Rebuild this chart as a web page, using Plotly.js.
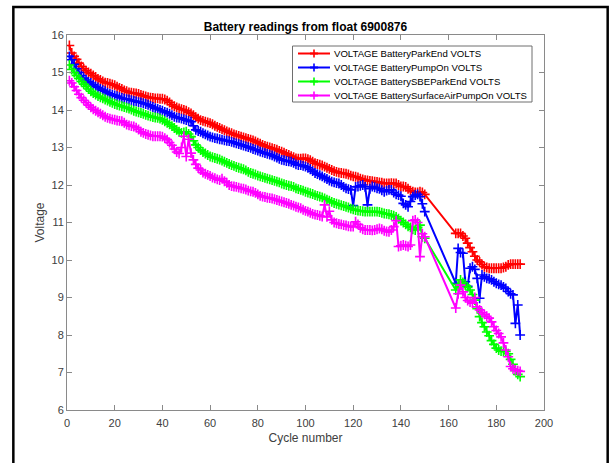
<!DOCTYPE html>
<html>
<head>
<meta charset="utf-8">
<script src="https://cdn.plot.ly/plotly-3.0.1.min.js"></script>
<style>html,body{margin:0;padding:0;background:#fff;}#chart{width:616px;height:463px;}</style>
</head>
<body>
<div id="chart"></div>
<script>
var cyclesA = [1,2,3,4,5,6,7,8,9,10,11,12,13,14,15,16,17,18,19,20,21,22,23,24,25,26,27,28,29,30,
31,32,33,34,35,36,37,38,39,40,41,42,43,44,45,46,47,48,49,50,51,52,53,54,55,56,57,58,59,60,
61,62,63,64,65,66,67,68,69,70,71,72,73,74,75,76,77,78,79,80,81,82,83,84,85,86,87,88,89,90,
91,92,93,94,95,96,97,98,99,100,101,102,103,104,105,106,107,108,109,110,111,112,113,114,115,116,117,118,119,120,
121,122,123,124,125,126,127,128,129,130,131,132,133,134,135,136,137,138,139,140,141,142,143,144,145,146,147,148,149,150];
var cyclesB = [163,164,165,166,167,168,169,170,171,172,173,174,175,176,177,178,179,180,181,182,183,184,185,186,187,188,189,190];

var parkEndA = [15.72,15.52,15.43,15.35,15.25,15.16,15.10,15.05,15.00,14.97,
14.92,14.88,14.83,14.80,14.76,14.73,14.72,14.70,14.68,14.66,
14.62,14.59,14.56,14.52,14.50,14.47,14.46,14.45,14.44,14.43,
14.40,14.38,14.36,14.34,14.33,14.32,14.31,14.31,14.30,14.30,
14.28,14.25,14.20,14.14,14.10,14.07,14.04,14.02,14.00,13.98,
13.94,13.91,13.86,13.81,13.77,13.73,13.71,13.69,13.67,13.65,
13.62,13.58,13.55,13.52,13.49,13.46,13.43,13.40,13.38,13.35,
13.33,13.31,13.29,13.27,13.25,13.23,13.21,13.19,13.16,13.13,
13.10,13.07,13.04,13.02,13.00,12.98,12.96,12.94,12.91,12.89,
12.86,12.83,12.80,12.77,12.74,12.71,12.70,12.70,12.71,12.71,
12.69,12.66,12.62,12.58,12.56,12.54,12.52,12.49,12.46,12.43,
12.40,12.37,12.35,12.33,12.32,12.31,12.30,12.28,12.25,12.23,
12.22,12.20,12.17,12.15,12.13,12.12,12.11,12.10,12.09,12.08,
12.07,12.06,12.04,12.04,12.04,12.05,12.04,12.04,12.00,11.96,
11.96,11.95,11.90,11.85,11.82,11.80,11.80,11.82,11.80,11.75];
var parkEndB = [10.71,10.71,10.71,10.64,10.58,10.45,10.33,10.22,10.10,10.00,9.95,9.88,9.82,9.80,
9.78,9.78,9.78,9.78,9.78,9.78,9.80,9.82,9.87,9.89,9.89,9.89,9.89,9.89];

var pumpOnA = [15.43,15.34,15.22,15.10,15.00,14.92,14.85,14.80,14.75,14.72,
14.67,14.63,14.60,14.56,14.53,14.50,14.46,14.43,14.41,14.39,
14.37,14.34,14.32,14.30,14.29,14.28,14.26,14.24,14.23,14.21,
14.20,14.18,14.16,14.14,14.11,14.08,14.05,14.03,14.00,13.98,
13.95,13.93,13.90,13.86,13.82,13.80,13.79,13.77,13.75,13.73,
13.71,13.69,13.58,13.47,13.44,13.42,13.38,13.35,13.32,13.29,
13.27,13.25,13.24,13.22,13.21,13.19,13.18,13.17,13.15,13.13,
13.11,13.09,13.07,13.05,13.03,13.01,12.99,12.96,12.94,12.92,
12.89,12.87,12.85,12.83,12.81,12.79,12.76,12.73,12.70,12.67,
12.66,12.64,12.63,12.62,12.59,12.55,12.53,12.53,12.51,12.49,
12.46,12.42,12.37,12.32,12.29,12.26,12.23,12.19,12.16,12.12,
12.09,12.07,12.05,12.04,12.00,11.95,11.91,11.89,11.87,11.45,
11.95,11.96,11.98,12.00,11.95,11.47,11.90,11.96,11.94,11.91,
11.90,11.86,11.82,11.85,11.87,11.87,11.80,11.75,11.73,11.70,
11.51,11.47,11.42,11.56,11.69,11.73,11.75,11.69,11.50,11.29];
var pumpOnB = [9.38,10.31,10.20,10.18,9.42,9.30,9.78,9.82,9.75,9.51,8.98,9.60,9.55,9.51,
9.50,9.47,9.42,9.38,9.35,9.33,9.28,9.24,9.16,9.10,9.07,8.31,8.80,8.00];

var sbeParkEndA = [15.20,15.08,15.00,14.92,14.84,14.76,14.69,14.63,14.56,14.50,
14.45,14.41,14.37,14.34,14.31,14.28,14.25,14.22,14.19,14.16,
14.14,14.12,14.10,14.08,14.06,14.04,14.01,13.98,13.96,13.94,
13.92,13.90,13.87,13.85,13.83,13.81,13.80,13.79,13.77,13.74,
13.70,13.66,13.62,13.57,13.52,13.47,13.42,13.39,13.40,13.42,
13.36,13.29,13.18,13.07,13.00,12.93,12.88,12.84,12.80,12.76,
12.74,12.72,12.70,12.68,12.65,12.62,12.59,12.56,12.53,12.51,
12.48,12.46,12.44,12.42,12.39,12.35,12.32,12.30,12.28,12.25,
12.23,12.21,12.19,12.17,12.15,12.13,12.11,12.09,12.07,12.04,
12.02,12.00,11.98,11.97,11.95,11.91,11.89,11.87,11.85,11.82,
11.80,11.78,11.76,11.73,11.71,11.69,11.67,11.64,11.61,11.58,
11.55,11.52,11.50,11.48,11.46,11.44,11.42,11.40,11.37,11.35,
11.33,11.32,11.31,11.30,11.29,11.29,11.29,11.29,11.29,11.29,
11.28,11.26,11.24,11.23,11.22,11.20,11.18,11.15,11.10,11.05,
11.00,10.95,10.90,10.87,10.82,10.80,10.87,10.93,10.62,10.58];
var sbeParkEndB = [9.20,9.35,9.47,9.40,9.33,9.27,9.20,9.08,8.93,8.70,8.49,8.33,8.22,8.08,
7.98,7.85,7.75,7.65,7.60,7.57,7.56,7.56,7.50,7.35,7.22,7.05,6.95,6.89];

var airPumpA = [14.78,14.72,14.62,14.52,14.42,14.33,14.26,14.20,14.13,14.07,
14.02,13.98,13.94,13.90,13.86,13.82,13.79,13.77,13.75,13.74,
13.72,13.71,13.70,13.66,13.61,13.59,13.57,13.56,13.53,13.48,
13.42,13.39,13.36,13.34,13.32,13.30,13.30,13.30,13.30,13.29,
13.25,13.21,13.13,13.06,12.96,12.88,12.84,13.00,13.30,12.76,
13.22,12.85,12.67,12.55,12.45,12.40,12.33,12.30,12.27,12.24,
12.20,12.18,12.15,12.13,12.17,12.10,12.06,12.00,11.97,11.96,
11.95,11.93,11.91,11.90,11.88,11.85,11.83,11.82,11.79,11.75,
11.71,11.69,11.68,11.66,11.65,11.64,11.62,11.60,11.58,11.56,
11.54,11.52,11.50,11.47,11.45,11.42,11.40,11.38,11.34,11.31,
11.29,11.26,11.23,11.21,11.20,11.18,11.16,11.47,11.15,11.30,
11.07,11.00,10.98,10.96,10.95,10.93,10.92,10.90,10.89,10.89,
11.02,10.95,10.86,10.82,10.80,10.80,10.80,10.79,10.80,10.82,
10.84,10.82,10.78,10.76,10.75,10.80,10.89,11.05,10.36,10.38,
10.40,10.38,10.36,10.40,11.05,11.07,11.00,10.09,10.70,10.62];
var airPumpB = [8.72,9.10,9.33,9.15,9.00,8.92,8.88,8.85,9.00,8.75,8.67,8.60,8.55,8.50,
8.45,8.35,8.22,8.12,8.04,7.95,7.79,7.60,7.42,7.16,7.10,7.07,7.05,7.03];

var seriesNames = ['VOLTAGE BatteryParkEnd VOLTS','VOLTAGE BatteryPumpOn VOLTS',
  'VOLTAGE BatterySBEParkEnd VOLTS','VOLTAGE BatterySurfaceAirPumpOn VOLTS'];
var seriesColors = ['#ff0000','#0000ff','#00ff00','#ff00ff'];

var xTickVals = [0,20,40,60,80,100,120,140,160,180,200];
var yTickVals = [6,7,8,9,10,11,12,13,14,15,16];

var cycles = cyclesA.concat(cyclesB);
var ys = [parkEndA.concat(parkEndB), pumpOnA.concat(pumpOnB),
          sbeParkEndA.concat(sbeParkEndB), airPumpA.concat(airPumpB)];

var FONT = 'Liberation Sans, Arial, sans-serif';

var traces = ys.map(function(y, i){
  return {
    x: cycles, y: y, type: 'scatter', mode: 'lines+markers',
    name: seriesNames[i], showlegend: false,
    line: {color: seriesColors[i], width: 2},
    marker: {symbol: 'cross-thin', size: 7, line: {color: seriesColors[i], width: 1.6}, color: seriesColors[i]},
    cliponaxis: true
  };
});

// Compact MATLAB-style legend drawn in paper coordinates
var plotL = 67, plotW = 477, plotB = 410, plotH = 375;
function px2x(p){ return (p - plotL) / plotW; }
function py2y(p){ return (plotB - p) / plotH; }
var legBox = {x0: 292.5, x1: 532, y0: 46, y1: 102};
var rowH = (legBox.y1 - legBox.y0) / seriesNames.length;
var shapes = [{
  type: 'rect', xref: 'paper', yref: 'paper',
  x0: -0.1125, x1: 1.1335, y0: -0.2, y1: 1.0747,
  line: {color: '#000000', width: 2.5}, fillcolor: 'rgba(0,0,0,0)', layer: 'below'
}, {
  type: 'rect', xref: 'paper', yref: 'paper',
  x0: px2x(legBox.x0), x1: px2x(legBox.x1), y0: py2y(legBox.y1), y1: py2y(legBox.y0),
  line: {color: '#6e6e6e', width: 1}, fillcolor: '#ffffff', layer: 'above'
}];
var annotations = [];
seriesNames.forEach(function(nm, i){
  var cy = legBox.y0 + (i + 0.5) * rowH + 0.5;
  var c = seriesColors[i];
  shapes.push({type: 'line', xref: 'paper', yref: 'paper',
    x0: px2x(298), x1: px2x(330), y0: py2y(cy), y1: py2y(cy),
    line: {color: c, width: 2}, layer: 'above'});
  shapes.push({type: 'line', xref: 'paper', yref: 'paper',
    x0: px2x(314), x1: px2x(314), y0: py2y(cy - 4), y1: py2y(cy + 4),
    line: {color: c, width: 1.6}, layer: 'above'});
  shapes.push({type: 'line', xref: 'paper', yref: 'paper',
    x0: px2x(310), x1: px2x(318), y0: py2y(cy), y1: py2y(cy),
    line: {color: c, width: 2}, layer: 'above'});
  annotations.push({text: nm, xref: 'paper', yref: 'paper',
    x: px2x(332), y: py2y(cy), xanchor: 'left', yanchor: 'middle', showarrow: false,
    font: {family: FONT, size: 9.6, color: '#000'}});
});

var axisCommon = {
  showgrid: false, zeroline: false, showline: true, mirror: 'ticks',
  linecolor: '#8a8a8a', linewidth: 1, ticks: 'inside', ticklen: 5,
  tickcolor: '#8a8a8a', tickwidth: 1,
  tickfont: {family: FONT, size: 11, color: '#404040'}
};

var layout = {
  width: 616, height: 463,
  margin: {l: 67, r: 72, t: 35, b: 53},
  paper_bgcolor: '#ffffff', plot_bgcolor: '#ffffff',
  showlegend: false,
  title: {text: '<b>Battery readings from float 6900876</b>',
    font: {family: FONT, size: 12, color: '#000'},
    x: 0.5, xref: 'paper', xanchor: 'center', y: 1, yref: 'paper', yanchor: 'bottom', pad: {b: 4}},
  xaxis: Object.assign({}, axisCommon, {
    range: [0, 200], tickvals: xTickVals, ticktext: xTickVals.map(String),
    ticklabelstandoff: 3,
    title: {text: 'Cycle number', standoff: 5,
      font: {family: FONT, size: 12, color: '#404040'}}
  }),
  yaxis: Object.assign({}, axisCommon, {
    range: [6, 16], tickvals: yTickVals, ticktext: yTickVals.map(String),
    title: {text: 'Voltage', standoff: 4,
      font: {family: FONT, size: 12, color: '#404040'}}
  }),
  shapes: shapes,
  annotations: annotations
};

Plotly.newPlot('chart', traces, layout, {staticPlot: true, displayModeBar: false});
</script>
</body>
</html>
